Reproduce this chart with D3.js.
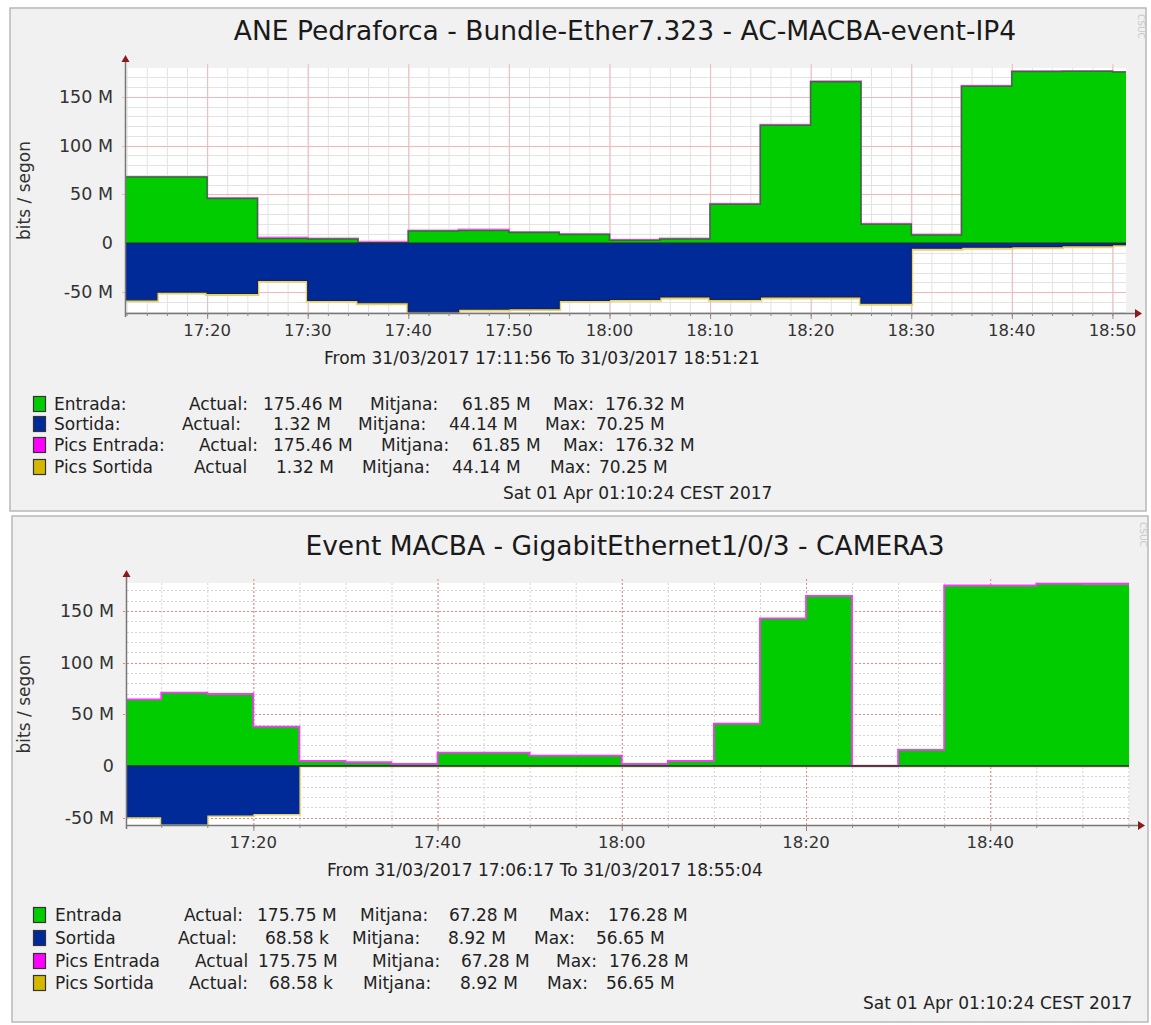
<!DOCTYPE html>
<html><head><meta charset="utf-8">
<script src="https://cdn.jsdelivr.net/npm/d3@7"></script>
<style>
body{margin:0;background:#fff;}
svg{display:block;font-family:"DejaVu Sans",sans-serif;}
</style></head>
<body>
<svg id="c" width="1151" height="1025"></svg>
<script>
// ---------- DATA: chart 1 ----------
const c1Title = "ANE Pedraforca - Bundle-Ether7.323 - AC-MACBA-event-IP4";
const c1Times = ["17:11:56","17:15","17:20","17:25","17:30","17:35","17:40","17:45","17:50","17:55","18:00","18:05","18:10","18:15","18:20","18:25","18:30","18:35","18:40","18:45","18:50","18:51:21"];
const c1Entrada = [68,68,46,5,4.5,0.5,12.5,13,11,9,3,4.5,40,121,165.5,19.5,8.5,161,176,176.3,175.5];
const c1PicsEntrada = [68,68,46.5,6,5,1.5,13,14,11.5,9.5,3.5,5,40.5,121.5,166,20,9,161.5,176.3,176.3,175.5];
const c1Sortida = [58,50,51.5,38,58.5,61,70.25,67.5,67,58.5,57.5,55,57.5,55,55,61.5,5,4,3.5,2.5,1.32];
const c1PicsSortida = [58.5,50.5,52,38.5,59,61.5,70.25,68,67.5,59,58,55.5,58,55.5,55.5,62,5.5,4.5,4,3,1.6];
const c1Ticks = ["17:20","17:30","17:40","17:50","18:00","18:10","18:20","18:30","18:40","18:50"];
const c1YTicks = [-50,0,50,100,150];
const c1Range = "From 31/03/2017 17:11:56 To 31/03/2017 18:51:21";
const c1LegNames = ["Entrada:","Sortida:","Pics Entrada:","Pics Sortida"];
const c1LegActualLbl = ["Actual:","Actual:","Actual:","Actual"];
const c1LegActual = ["175.46 M","1.32 M","175.46 M","1.32 M"];
const c1LegMitjana = ["61.85 M","44.14 M","61.85 M","44.14 M"];
const c1LegMax = ["176.32 M","70.25 M","176.32 M","70.25 M"];

// ---------- DATA: chart 2 ----------
const c2Title = "Event MACBA - GigabitEthernet1/0/3 - CAMERA3";
const c2Times = ["17:06:17","17:10","17:15","17:20","17:25","17:30","17:35","17:40","17:45","17:50","17:55","18:00","18:05","18:10","18:15","18:20","18:25","18:30","18:35","18:40","18:45","18:50","18:55","18:55:04"];
const c2Entrada = [64.5,70.5,69.5,38,5,3.5,2,13,13,10,10,2,5,41,142.5,164.5,0,15.5,174.5,174.5,176.3,175.75,175.75];
const c2PicsEntrada = [64.5,70.9,69.6,38,5,3.6,2,13,13,10,10,2,5,41,142.8,164.6,0,15.5,174.6,174.6,176.3,176.28,176.28];
const c2Sortida = [49.5,56.65,48,46.5,0.1,0.1,0.1,0.1,0.1,0.1,0.1,0.1,0.1,0.1,0.1,0.1,0.1,0.1,0.1,0.1,0.1,0.07,0.07];
const c2PicsSortida = [49.5,56.65,48,46.5,0.1,0.1,0.1,0.1,0.1,0.1,0.1,0.1,0.1,0.1,0.1,0.1,0.1,0.1,0.1,0.1,0.1,0.07,0.07];
const c2Ticks = ["17:20","17:40","18:00","18:20","18:40"];
const c2YTicks = [-50,0,50,100,150];
const c2Range = "From 31/03/2017 17:06:17 To 31/03/2017 18:55:04";
const c2LegNames = ["Entrada","Sortida","Pics Entrada","Pics Sortida"];
const c2LegActualLbl = ["Actual:","Actual:","Actual","Actual:"];
const c2LegActual = ["175.75 M","68.58 k","175.75 M","68.58 k"];
const c2LegMitjana = ["67.28 M","8.92 M","67.28 M","8.92 M"];
const c2LegMax = ["176.28 M","56.65 M","176.28 M","56.65 M"];

const stamp = "Sat 01 Apr 01:10:24 CEST 2017";
const legColors = ["#00cc00","#002a97","#ff00ff","#d4b800"];

// ---------- DRAW ----------
const svg = d3.select("#c");
const parse = s => { const p = s.split(":").map(Number); return new Date(2017,2,31,p[0],p[1],p[2]||0); };

function drawChart(o){
  const g = svg.append("g");
  g.append("rect").attr("x",o.panel[0]).attr("y",o.panel[1]).attr("width",o.panel[2]).attr("height",o.panel[3])
   .attr("fill","#f1f1f1").attr("stroke","#b8b8b8").attr("stroke-width",1.5);
  g.append("text").attr("x",o.titleX).attr("y",o.titleY).attr("text-anchor","middle")
   .attr("font-size",o.titleSize).attr("fill","#1a1a1a").text(o.title);
  g.append("text").attr("transform",`translate(${o.panel[0]+o.panel[2]-8},${o.panel[1]+6}) rotate(90)`)
   .attr("font-size",9).attr("fill","#c8c8c8").text("CSUC");

  const times = o.times.map(parse);
  const x = d3.scaleTime().domain([times[0], times[times.length-1]]).range([o.x0,o.x1]);
  const y = d3.scaleLinear().domain(o.ydom).range([o.yb,o.yt]);

  g.append("rect").attr("x",o.x0).attr("y",o.yt).attr("width",o.x1-o.x0).attr("height",o.yb-o.yt).attr("fill","#fff");

  const minorX = d3.timeMinute.every(o.minorMin).range(times[0], times[times.length-1]);
  const majorX = o.ticks.map(parse);
  const gridG = g.append("g");
  gridG.selectAll(".mx").data(minorX).join("line")
    .attr("x1",d=>x(d)+0.5).attr("x2",d=>x(d)+0.5).attr("y1",o.yt).attr("y2",o.yb)
    .attr("stroke",o.minorColor).attr("stroke-dasharray",o.dash);
  const minorY = d3.range(Math.ceil(o.ydom[0]/10)*10, o.ydom[1], 10);
  gridG.selectAll(".my").data(minorY).join("line")
    .attr("x1",o.x0).attr("x2",o.x1).attr("y1",d=>Math.round(y(d))+0.5).attr("y2",d=>Math.round(y(d))+0.5)
    .attr("stroke",o.minorColor).attr("stroke-dasharray",o.dash);
  gridG.selectAll(".Mx").data(majorX).join("line")
    .attr("x1",d=>x(d)+0.5).attr("x2",d=>x(d)+0.5).attr("y1",o.yt-4).attr("y2",o.yb)
    .attr("stroke",o.majorColor).attr("stroke-dasharray",o.dash);
  gridG.selectAll(".My").data(o.yticks.filter(v=>v!==0)).join("line")
    .attr("x1",o.x0-4).attr("x2",o.x1).attr("y1",d=>Math.round(y(d))+0.5).attr("y2",d=>Math.round(y(d))+0.5)
    .attr("stroke",o.majorColor).attr("stroke-dasharray",o.dash);

  const pts = (vals) => { const a = vals.map((v,i)=>({t:times[i],v})); a.push({t:times[times.length-1],v:vals[vals.length-1]}); return a; };
  const areaP = d3.area().curve(d3.curveStepAfter).x(d=>x(d.t)).y0(y(0)).y1(d=>y(d.v));
  const areaN = d3.area().curve(d3.curveStepAfter).x(d=>x(d.t)).y0(y(0)).y1(d=>y(-d.v));
  const lineP = d3.line().curve(d3.curveStepAfter).x(d=>x(d.t)).y(d=>y(d.v));
  const lineN = d3.line().curve(d3.curveStepAfter).x(d=>x(d.t)).y(d=>y(-d.v));

  g.append("path").attr("d",lineN(pts(o.picsSortida))).attr("fill","none").attr("stroke","#e6d46a").attr("stroke-width",o.picsW);
  if(!o.pinkOnTop) g.append("path").attr("d",lineP(pts(o.picsEntrada))).attr("fill","none").attr("stroke","#ff66ff").attr("stroke-width",2);
  g.append("path").attr("d",areaP(pts(o.entrada))).attr("fill","#00cc00");
  g.append("path").attr("d",areaN(pts(o.sortida))).attr("fill","#002a97");
  if(o.outline){
    g.append("path").attr("d",lineP(pts(o.entrada))).attr("fill","none").attr("stroke","#3d6b3d").attr("stroke-width",1.5);
    g.append("path").attr("d",lineN(pts(o.sortida))).attr("fill","none").attr("stroke","#14215e").attr("stroke-width",1.2);
  }
  if(o.pinkOnTop) g.append("path").attr("d",lineP(pts(o.picsEntrada))).attr("fill","none").attr("stroke","#ff33ff").attr("stroke-width",1.8);
  g.append("line").attr("x1",o.x0).attr("x2",o.x1).attr("y1",y(0)).attr("y2",y(0)).attr("stroke","#1c2a4a").attr("stroke-width",1.5);

  const ax = g.append("g").attr("stroke","#777").attr("stroke-width",1.5);
  ax.append("line").attr("x1",o.x0).attr("x2",o.x1+10).attr("y1",o.yb+0.5).attr("y2",o.yb+0.5);
  ax.append("line").attr("x1",o.x0-0.5).attr("x2",o.x0-0.5).attr("y1",o.yb+4).attr("y2",o.yt-8);
  g.append("path").attr("d",`M${o.x1+9},${o.yb-4}L${o.x1+16},${o.yb+0.5}L${o.x1+9},${o.yb+5}Z`).attr("fill","#8b1a1a");
  g.append("path").attr("d",`M${o.x0-4.5},${o.yt-6}L${o.x0-0.5},${o.yt-13}L${o.x0+3.5},${o.yt-6}Z`).attr("fill","#8b1a1a");
  g.append("g").selectAll("line").data(minorX).join("line")
    .attr("x1",d=>x(d)+0.5).attr("x2",d=>x(d)+0.5).attr("y1",o.yb).attr("y2",o.yb+3).attr("stroke","#888");
  g.append("g").selectAll("line").data(majorX).join("line")
    .attr("x1",d=>x(d)+0.5).attr("x2",d=>x(d)+0.5).attr("y1",o.yb).attr("y2",o.yb+6).attr("stroke","#888");

  g.append("g").selectAll("text").data(majorX).join("text")
    .attr("x",d=>x(d)).attr("y",o.yb+23).attr("text-anchor","middle").attr("font-size",16.5).attr("fill","#333")
    .text((d,i)=>o.ticks[i]);
  g.append("g").selectAll("text").data(o.yticks).join("text")
    .attr("x",o.x0-13).attr("y",d=>y(d)+6).attr("text-anchor","end").attr("font-size",17.5).attr("fill","#333")
    .text(d=>d===0?"0":d+" M");
  g.append("text").attr("transform",`translate(${o.ylabX},${y((o.ydom[0]+o.ydom[1])/2)}) rotate(-90)`)
    .attr("text-anchor","middle").attr("font-size",17).attr("fill","#333").text("bits / segon");

  g.append("text").attr("x",o.rangeX).attr("y",o.rangeY).attr("font-size",17).attr("fill","#222").text(o.range);

  o.legNames.forEach((n,i)=>{
    const yy = o.legY[i];
    const cols = o.legCols[i];
    g.append("rect").attr("x",33.5).attr("y",yy-13.5).attr("width",12).attr("height",15)
      .attr("fill",legColors[i]).attr("stroke","#333").attr("stroke-width",1.2);
    const parts = [n,o.legActualLbl[i],o.legActual[i],"Mitjana:",o.legMitjana[i],"Max:",o.legMax[i]];
    parts.forEach((p,j)=>{
      g.append("text").attr("x",cols[j]).attr("y",yy).attr("font-size",17).attr("fill","#222").text(p);
    });
  });
  g.append("text").attr("x",o.stampX).attr("y",o.stampY).attr("font-size",17).attr("fill","#222").text(stamp);
}

drawChart({
  panel:[10,8,1136,503], title:c1Title, titleX:625, titleY:40, titleSize:26.5,
  times:c1Times, entrada:c1Entrada, picsEntrada:c1PicsEntrada, sortida:c1Sortida, picsSortida:c1PicsSortida,
  ticks:c1Ticks, yticks:c1YTicks, ydom:[-71.5,179.7], x0:126, x1:1126, yt:68, yb:313,
  minorMin:2, minorColor:"#e3e3e3", majorColor:"#f2b8b8", dash:null, outline:true, pinkOnTop:false, picsW:4,
  ylabX:30, range:c1Range, rangeX:324, rangeY:364,
  legNames:c1LegNames, legActualLbl:c1LegActualLbl, legActual:c1LegActual, legMitjana:c1LegMitjana, legMax:c1LegMax,
  legY:[410,430,451,473],
  legCols:[[54,189,263,370,462,553,605],[54,182,273,358,449,545,596],[54,199,273,381,472,563,615],[54,194,276,362,452,550,599]],
  stampX:503, stampY:499
});
drawChart({
  panel:[12,516,1136,506], title:c2Title, titleX:625, titleY:555, titleSize:26.5,
  times:c2Times, entrada:c2Entrada, picsEntrada:c2PicsEntrada, sortida:c2Sortida, picsSortida:c2PicsSortida,
  ticks:c2Ticks, yticks:c2YTicks, ydom:[-57.1,177], x0:127, x1:1129, yt:583, yb:825,
  minorMin:5, minorColor:"#d4d4d4", majorColor:"#f08080", dash:"2,2", outline:false, pinkOnTop:true, picsW:3,
  ylabX:30, range:c2Range, rangeX:327, rangeY:876,
  legNames:c2LegNames, legActualLbl:c2LegActualLbl, legActual:c2LegActual, legMitjana:c2LegMitjana, legMax:c2LegMax,
  legY:[921,944,967,989],
  legCols:[[55,184,257,360,449,549,608],[55,178,265,352,448,534,596],[55,195,258,372,461,556,609],[55,189,269,363,460,547,606]],
  stampX:863, stampY:1009
});
</script>
</body></html>
